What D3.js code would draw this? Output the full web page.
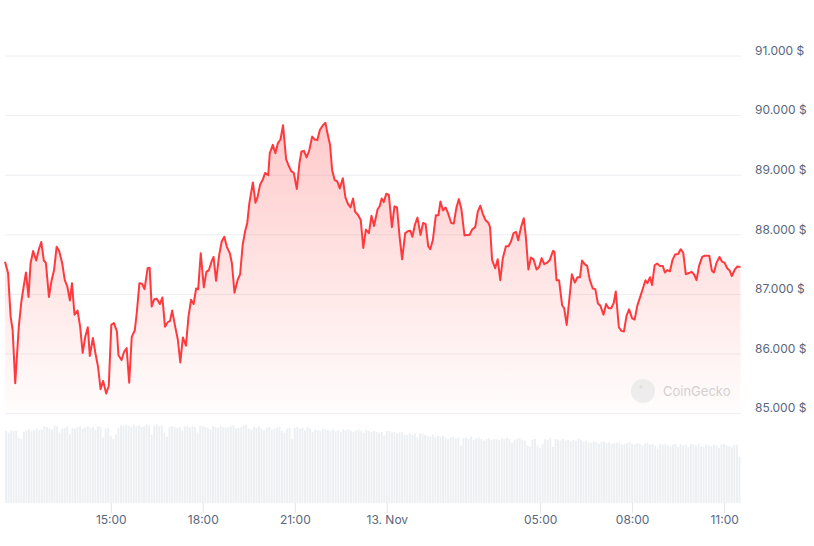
<!DOCTYPE html>
<html>
<head>
<meta charset="utf-8">
<script src="https://cdn.jsdelivr.net/npm/d3@7"></script>
<style>
  html, body { margin: 0; padding: 0; background: #fff; }
  svg { display: block; font-family: Inter, "Noto Sans", sans-serif; }
</style>
</head>
<body>
<svg id="chart" width="814" height="546"></svg>
<script>
// ---- data ----
const times = [
"11:33","11:39","11:44","11:48","11:53","12:00","12:05","12:10","12:14","12:19",
"12:23","12:28","12:34","12:39","12:44","12:49","12:53","12:59","13:04","13:09",
"13:14","13:19","13:25","13:30","13:35","13:40","13:44","13:49","13:55","14:00",
"14:05","14:10","14:15","14:19","14:25","14:30","14:35","14:40","14:45","14:51",
"14:56","15:01","15:06","15:12","15:15","15:21","15:26","15:31","15:36","15:41",
"15:47","15:51","15:56","16:01","16:06",
"16:12","16:16","16:20","16:25","16:30","16:36","16:41","16:46","16:51","16:56",
"17:00","17:06","17:11","17:16","17:21","17:27","17:32","17:37","17:42","17:47",
"17:51","17:56","18:02","18:07","18:12","18:17","18:21","18:26","18:32","18:37",
"18:42","18:47",
"18:53","18:57","19:02","19:08","19:13","19:18","19:23","19:27","19:31","19:38",
"19:43","19:47","19:52","19:57","20:02","20:08","20:11","20:17","20:22","20:27",
"20:32","20:37","20:43","20:48","20:53","20:58","21:04","21:09","21:13","21:18",
"21:23","21:28","21:34","21:39","21:44","21:49","21:55","22:00","22:04","22:09",
"22:13","22:18","22:23","22:28","22:34","22:39","22:44","22:49","22:54","22:58",
"23:04","23:09","23:14","23:19","23:25","23:30","23:35",
"23:42","23:46","23:50","23:54","23:59","00:04","00:10","00:15","00:20","00:25",
"00:30","00:36","00:41","00:46","00:50","00:55","01:00","01:06","01:11","01:16",
"01:21","01:25","01:30","01:36","01:41","01:45","01:50","01:55","02:00","02:06",
"02:11","02:16","02:21","02:26","02:32","02:37","02:42","02:47","02:53","02:58",
"03:03","03:08","03:13","03:19","03:22","03:26","03:32","03:37","03:42","03:47",
"03:53","03:58","04:03","04:08","04:13","04:17","04:23","04:28","04:32","04:37",
"04:42","04:47","04:53","04:58","05:03","05:08","05:13","05:19",
"05:25","05:28","05:32","05:37","05:43","05:47","05:52","05:57","06:02","06:08",
"06:13","06:18","06:22","06:27","06:32","06:37","06:43","06:48","06:53","06:58",
"07:04","07:09","07:14","07:19","07:24","07:28","07:34","07:39","07:44","07:49",
"07:54","08:00","08:05","08:10","08:15","08:21","08:26","08:30","08:35","08:39",
"08:44","08:49","08:54","09:00","09:04","09:09","09:14","09:19","09:24","09:30",
"09:35","09:40","09:45","09:51","09:56","10:01","10:06","10:11","10:17","10:22",
"10:27","10:31","10:36","10:40","10:45","10:51","10:56","11:01","11:06","11:11",
"11:15","11:21","11:26","11:32"
];

const prices = [
87540,87350,86620,86390,85500,86450,86870,87150,87360,86950,
87510,87720,87560,87740,87870,87560,87520,86950,87220,87400,
87790,87720,87510,87230,87120,86890,87180,86650,86720,86450,
86010,86280,86440,85960,86260,86000,85780,85400,85540,85330,
85450,86480,86510,86370,85970,85890,86030,86090,85510,86280,
86390,86700,87180,87170,87080,
87430,87440,86790,86910,86920,86830,86940,86450,86520,86550,
86720,86450,86240,85850,86270,86130,86620,86900,86830,87090,
87080,87680,87110,87370,87400,87540,87620,87220,87650,87880,
87960,87790,
87680,87510,87020,87230,87330,87820,88060,88190,88520,88870,
88530,88620,88830,88910,89030,88990,89360,89500,89360,89530,
89590,89830,89260,89150,89060,89030,88760,89190,89390,89400,
89290,89400,89640,89590,89580,89750,89830,89870,89690,89500,
89080,88910,88890,88770,88940,88620,88510,88450,88600,88380,
88320,88240,87770,88080,88020,88310,88140,
88420,88470,88600,88540,88680,88660,88120,88470,88450,87960,
87580,88020,88050,88060,87960,88160,88280,87990,88190,88170,
87800,87750,87900,88320,88320,88550,88400,88450,88350,88190,
88180,88440,88590,88420,87980,87990,87990,88080,88120,88380,
88480,88340,88240,88190,88120,87570,87430,87580,87230,87600,
87800,87800,87880,88020,88040,87900,88130,88270,87960,87410,
87610,87580,87410,87450,87600,87500,87520,87570,
87720,87710,87230,87230,86810,86760,86480,86900,87330,87190,
87280,87280,87560,87500,87470,87240,87090,87080,86840,86800,
86650,86830,86760,86760,86850,87040,86440,86380,86370,86630,
86740,86590,86570,86800,86930,87090,87230,87180,87280,87150,
87480,87510,87470,87470,87360,87400,87380,87570,87660,87670,
87750,87690,87330,87350,87370,87330,87230,87470,87620,87640,
87640,87640,87390,87360,87520,87620,87540,87520,87430,87390,
87300,87410,87460,87450
];

// volume, one bar per 5 minutes (relative units)
const volumes = [
90,88,91,90,90,81,80,89,91,92,90,91,
93,91,92,96,95,93,92,97,96,88,93,94,
96,86,94,93,95,96,93,95,96,94,95,92,
96,95,82,93,94,84,80,86,94,97,96,98,
97,95,98,96,97,95,96,98,97,85,97,98,
96,97,88,83,95,96,95,94,95,91,96,96,
94,96,95,88,97,96,95,94,92,96,95,94,
96,95,94,95,96,97,93,94,95,97,98,93,
92,95,94,96,93,91,94,95,92,93,94,95,
90,88,93,94,80,94,95,93,94,91,95,93,
89,92,91,90,93,92,91,90,92,90,91,89,
92,91,92,90,89,91,92,90,88,91,90,89,
90,89,88,89,84,90,90,88,89,87,88,89,
86,85,87,85,87,82,87,86,85,84,83,86,
82,84,83,84,82,80,82,83,81,82,72,81,
82,80,83,79,81,82,80,78,80,81,79,80,
80,79,81,80,82,80,75,79,80,81,79,78,
72,70,79,80,72,69,74,80,79,81,70,80,
79,78,80,78,79,77,79,78,80,79,77,78,
76,75,77,76,74,76,77,75,76,74,75,76,
75,73,74,75,76,74,73,75,74,72,74,75,
73,74,72,68,74,73,74,72,71,73,74,70,
74,72,73,70,74,73,72,74,71,70,73,72,
71,73,72,69,73,74,72,71,70,72,73,58
];

const priceTicks = [85000, 86000, 87000, 88000, 89000, 90000, 91000];
const timeTicks = ["12 15:00", "12 18:00", "12 21:00", "13 00:00", "13 05:00", "13 08:00", "13 11:00"];
const timeTickLabels = ["15:00", "18:00", "21:00", "13. Nov", "05:00", "08:00", "11:00"];

// ---- helpers ----
function toDate(hhmm) {
  const day = hhmm >= "11:33" ? 12 : 13;
  const [h, m] = hhmm.split(":").map(Number);
  return new Date(2024, 10, day, h, m);
}
function tickDate(s) {
  const [d, hm] = s.split(" ");
  const [h, m] = hm.split(":").map(Number);
  return new Date(2024, 10, +d, h, m);
}

const data = times.map((t, i) => ({ date: toDate(t), price: prices[i] }));
const start = new Date(2024, 10, 12, 11, 33);
const end = new Date(2024, 10, 13, 11, 33);
const volData = volumes.map((v, i) => ({ date: new Date(start.getTime() + i * 5 * 60000), vol: v }));

const svg = d3.select("#chart");
const left = 5, right = 741;

const x = d3.scaleTime().domain([start, end]).range([left, right]);
const y = d3.scaleLinear().domain([85000, 91000]).range([413.1, 55.5]);
const yv = d3.scaleLinear().domain([0, 100]).range([503, 423]);

// gradient
const defs = svg.append("defs");
const grad = defs.append("linearGradient")
  .attr("id", "areaGrad")
  .attr("gradientUnits", "userSpaceOnUse")
  .attr("x1", 0).attr("x2", 0).attr("y1", 120).attr("y2", 413);
grad.append("stop").attr("offset", 0).attr("stop-color", "#ff3a3a").attr("stop-opacity", 0.27);
grad.append("stop").attr("offset", 1).attr("stop-color", "#ff3a3a").attr("stop-opacity", 0.01);

// gridlines
const grid = svg.append("g")
  .attr("transform", `translate(${left},0)`)
  .call(d3.axisLeft(y).tickValues(priceTicks).tickSize(-(right - left)).tickFormat(""));
grid.select(".domain").remove();
grid.selectAll("line").attr("stroke", "#eceef1").attr("stroke-width", 1);

// volume bars
svg.append("g").selectAll("rect")
  .data(volData)
  .join("rect")
  .attr("x", d => x(d.date))
  .attr("width", 2)
  .attr("y", d => yv(d.vol))
  .attr("height", d => yv(0) - yv(d.vol))
  .attr("fill", "#edf0f3");

// area + line
const area = d3.area()
  .x(d => x(d.date))
  .y0(y(85000))
  .y1(d => y(d.price));
svg.append("path").datum(data).attr("d", area).attr("fill", "url(#areaGrad)");

const line = d3.line().x(d => x(d.date)).y(d => y(d.price));
svg.append("path").datum(data)
  .attr("d", line)
  .attr("fill", "none")
  .attr("stroke", "#ff3a3f")
  .attr("stroke-width", 2)
  .attr("stroke-linejoin", "round");

// watermark
const wm = svg.append("g").attr("opacity", 0.6);
wm.append("circle").attr("cx", 643).attr("cy", 391).attr("r", 12).attr("fill", "#e4e4e4");
wm.append("circle").attr("cx", 641).attr("cy", 387).attr("r", 1.6).attr("fill", "#cccccc");
wm.append("text").attr("x", 663).attr("y", 396)
  .attr("font-size", 13).attr("fill", "#b5b5b5").text("CoinGecko");

// y axis labels
const yAxis = svg.append("g")
  .attr("transform", `translate(${right},0)`)
  .call(d3.axisRight(y).tickValues(priceTicks).tickSize(0).tickPadding(14)
    .tickFormat(d => d3.format(",")(d).replace(/,/g, ".") + " $"));
yAxis.select(".domain").remove();
yAxis.selectAll("text")
  .attr("dy", "-1.2")
  .attr("fill", "#58667e")
  .attr("font-size", 12)
  .attr("font-family", "Inter, 'Noto Sans', sans-serif");

// x axis
const xAxis = svg.append("g")
  .attr("transform", `translate(0,503)`)
  .call(d3.axisBottom(x).tickValues(timeTicks.map(tickDate)).tickSize(10).tickPadding(2)
    .tickFormat((d, i) => timeTickLabels[i]));
xAxis.select(".domain").remove();
xAxis.selectAll(".tick line").attr("stroke", "#e3e6ea");
xAxis.selectAll("text")
  .attr("fill", "#58667e")
  .attr("font-size", 12)
  .attr("font-family", "Inter, 'Noto Sans', sans-serif");
</script>
</body>
</html>
